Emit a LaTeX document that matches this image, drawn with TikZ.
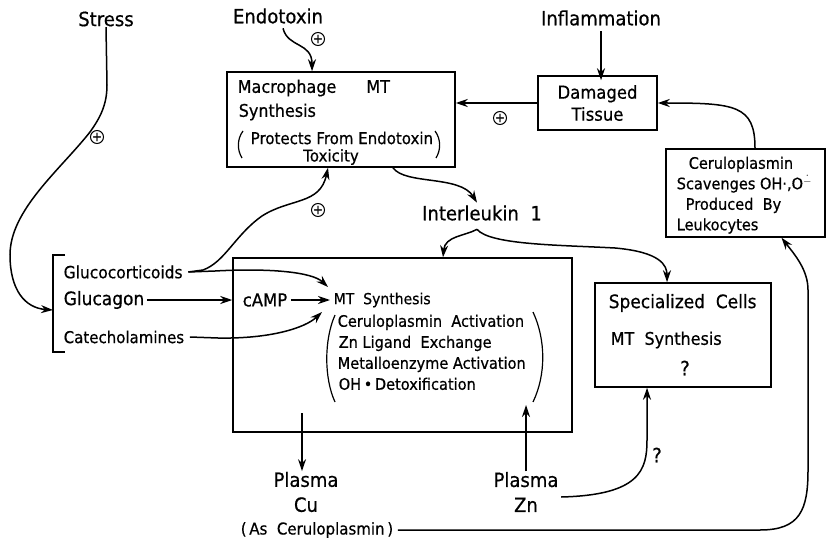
\documentclass[tikz,border=0pt]{standalone}
\usepackage{fontspec}
\setmainfont{DejaVu Sans}[FakeStretch=0.92, FakeBold=0.6]
\usetikzlibrary{arrows.meta}

\begin{document}
\begin{tikzpicture}[x=1pt, y=-1pt, line width=1.5pt,
  box/.style={draw, rectangle, inner sep=0pt},
  txt/.style={inner sep=0pt},
  big/.style={txt, font=\fontsize{19.6}{24}\selectfont},
  mid/.style={txt, font=\fontsize{17.4}{22}\selectfont},
  sml/.style={txt, font=\fontsize{15.8}{20.5}\selectfont},
  plusmark/.style={circle, draw, line width=1pt, inner sep=0pt, minimum size=13pt, font=\fontsize{13}{13}\selectfont},
  arr/.style={-{Stealth[length=12pt,width=8pt]}},
  paren/.style={line width=1.2pt}]

  \useasboundingbox (0,0) rectangle (826,540);

  \node[big] (stress) at (106,19) {Stress};
  \node[big] (endo) at (278,16) {Endotoxin};
  \node[big] (inflam) at (601,18) {Inflammation};

  \node[box, minimum width=228pt, minimum height=95pt] (macro) at (341,119.5) {};
  \node[box, minimum width=119pt, minimum height=54pt, align=center, font=\fontsize{17.9}{22}\selectfont] (dam) at (597.5,103) {Damaged\\Tissue};
  \node[box, minimum width=159pt, minimum height=88pt] (cer) at (745.5,193) {};
  \node[box, minimum width=339pt, minimum height=174pt] (main) at (402.5,345) {};
  \node[box, minimum width=176pt, minimum height=104pt] (spec) at (683,335) {};

  % macrophage box
  \node[mid, anchor=west] (macname) at (237,88) {Macrophage\hspace{30pt}MT};
  \node[mid, anchor=west] (macsyn) at (238,112) {Synthesis};
  \node[txt, font=\fontsize{16.3}{20}\selectfont, anchor=west] (protect) at (250,138) {Protects From Endotoxin};
  \node[txt, font=\fontsize{16.3}{20}\selectfont] (toxic) at (331,157) {Toxicity};
  \draw[paren] (243,131) .. controls (237,139) and (237,150) .. (242,158);
  \draw[paren] (435,131) .. controls (441,139) and (441,150) .. (436,158);

  % ceruloplasmin box
  \node[sml, anchor=north west, align=left] (certxt) at (676,156) {\hspace*{12pt}Ceruloplasmin\\Scavenges\ OH·,O$^{\dot{-}}$\\\hspace*{9pt}Produced\ \ By\\Leukocytes};

  % main box
  \node[txt, font=\fontsize{17.9}{20}\selectfont, anchor=west] (camp) at (242,300) {cAMP};
  \node[txt, font=\fontsize{15.2}{20}\selectfont, anchor=west] (mt) at (333,300) {MT\ \ Synthesis};
  \node[txt, font=\fontsize{15.8}{21}\selectfont, anchor=north west, align=left] (mtlist) at (337,314) {Ceruloplasmin\ \ Activation\\\hspace*{1pt}Zn Ligand\ \ Exchange\\Metalloenzyme Activation\\\hspace*{1pt}OH\,•\,Detoxification};
  \draw[paren] (335,315) .. controls (324,340) and (324,378) .. (335,402);
  \draw[paren] (533,312) .. controls (546,340) and (546,375) .. (533,402);

  % specialized cells box
  \node[txt, font=\fontsize{18.5}{20}\selectfont, anchor=west] (spname) at (608,303) {Specialized\ \ Cells};
  \node[mid, anchor=west] (spsyn) at (610,340) {MT\ \ Synthesis};
  \node[big] (spq) at (685,368) {?};

  % hormones
  \node[txt, font=\fontsize{16.8}{20}\selectfont, anchor=west] (gluco) at (63,272) {Glucocorticoids};
  \node[txt, font=\fontsize{18.5}{20}\selectfont, anchor=west] (glucagon) at (63,300) {Glucagon};
  \node[txt, font=\fontsize{16.3}{20}\selectfont, anchor=west] (catech) at (63,337) {Catecholamines};
  \draw (65,255) -| (53,352) -- (65,352);
  \coordinate (brk) at (53,310);

  \node[big] (il1) at (482,213) {Interleukin\ \ 1};
  \node[txt, font=\fontsize{19.6}{25}\selectfont, align=center] (pcu) at (306,492) {Plasma\\Cu};
  \node[txt, font=\fontsize{19.6}{25}\selectfont, align=center] (pzn) at (526,492) {Plasma\\Zn};
  \node[txt, font=\fontsize{16.3}{20}\selectfont, anchor=west] (ascer) at (240,530) {(\,As\ \ Ceruloplasmin\,)};
  \node[big] (znq) at (657,455) {?};

  \node[plusmark] (p1) at (97,137) {+};
  \node[plusmark] (p2) at (318,39) {+};
  \node[plusmark] (p3) at (500,118) {+};
  \node[plusmark] (p4) at (318,210) {+};

  \coordinate (ilfork) at ([xshift=-5pt,yshift=-8pt]il1.south);
  \coordinate (cuout) at (302,413);
  \coordinate (znin) at (526,405);

  \draw[arr] (stress.south) -- (107,85) .. controls (107,105) and (100,118) .. (90,132)
    .. controls (60,170) and (10,210) .. (10,255) .. controls (10,290) and (25,308) .. (brk); %% stress->hormones
  \draw[arr] ([xshift=5pt,yshift=-4pt]endo.south) .. controls (288,48) and (312,42) .. ([xshift=-29pt]macro.north); %% endotoxin->macro
  \draw[arr] ([yshift=-5pt]inflam.south) -- ([yshift=-5pt]inflam.south |- dam.north); %% inflammation->tissue
  \draw[arr] (dam.west) -- (dam.west -| macro.east); %% tissue->macro
  \draw[arr] ([xshift=9.5pt]cer.north) .. controls (755,105) and (735,103) .. (dam.east); %% cer->tissue

  \draw[arr] ([xshift=52pt]macro.south) .. controls (405,185) and (460,175) .. ([xshift=-5pt,yshift=2pt]il1.north); %% macro->IL1
  \draw[arr] (ilfork) .. controls (465,236) and (445,236) .. ([xshift=40.5pt]main.north); %% IL1->main
  \draw[arr] (ilfork) .. controls (490,245) and (560,245) .. (615,248)
    .. controls (660,252) and (667,265) .. ([xshift=-16pt]spec.north); %% IL1->spec

  \draw[arr] ([xshift=5pt]gluco.east) -- (203,270) .. controls (225,262) and (235,235) .. (262,216)
    .. controls (290,198) and (320,205) .. ([xshift=-13pt]macro.south); %% gluco->macro
  \draw[arr] ([xshift=5pt]gluco.east) -- (215,271) .. controls (270,268) and (312,272) .. (328,287); %% gluco->MT
  \draw[arr] ([xshift=5pt]catech.east) -- (218,338) .. controls (270,339) and (305,328) .. (322,312); %% catech->MT
  \draw[arr] ([xshift=2pt]glucagon.east) -- (main.west |- glucagon.east); %% glucagon->cAMP
  \draw[arr] ([xshift=3pt]camp.east) -- ([xshift=-3pt]mt.west); %% cAMP->MT

  \draw[arr] (cuout) -- (cuout |- pcu.north); %% main->Cu
  \draw[arr] (pzn.north) -- (znin); %% Zn->main
  \draw[arr] ([xshift=2pt,yshift=-5pt]pzn.east) .. controls (640,495) and (647,470) .. (647,440) -- ([xshift=-36pt]spec.south); %% Zn->spec
  \draw[arr] ([xshift=4pt]ascer.east) -- (760,530) .. controls (800,530) and (808,510) .. (808,470) -- (808,290)
    .. controls (808,270) and (795,255) .. ([xshift=36pt]cer.south); %% Cu->cer

\end{tikzpicture}
\end{document}
